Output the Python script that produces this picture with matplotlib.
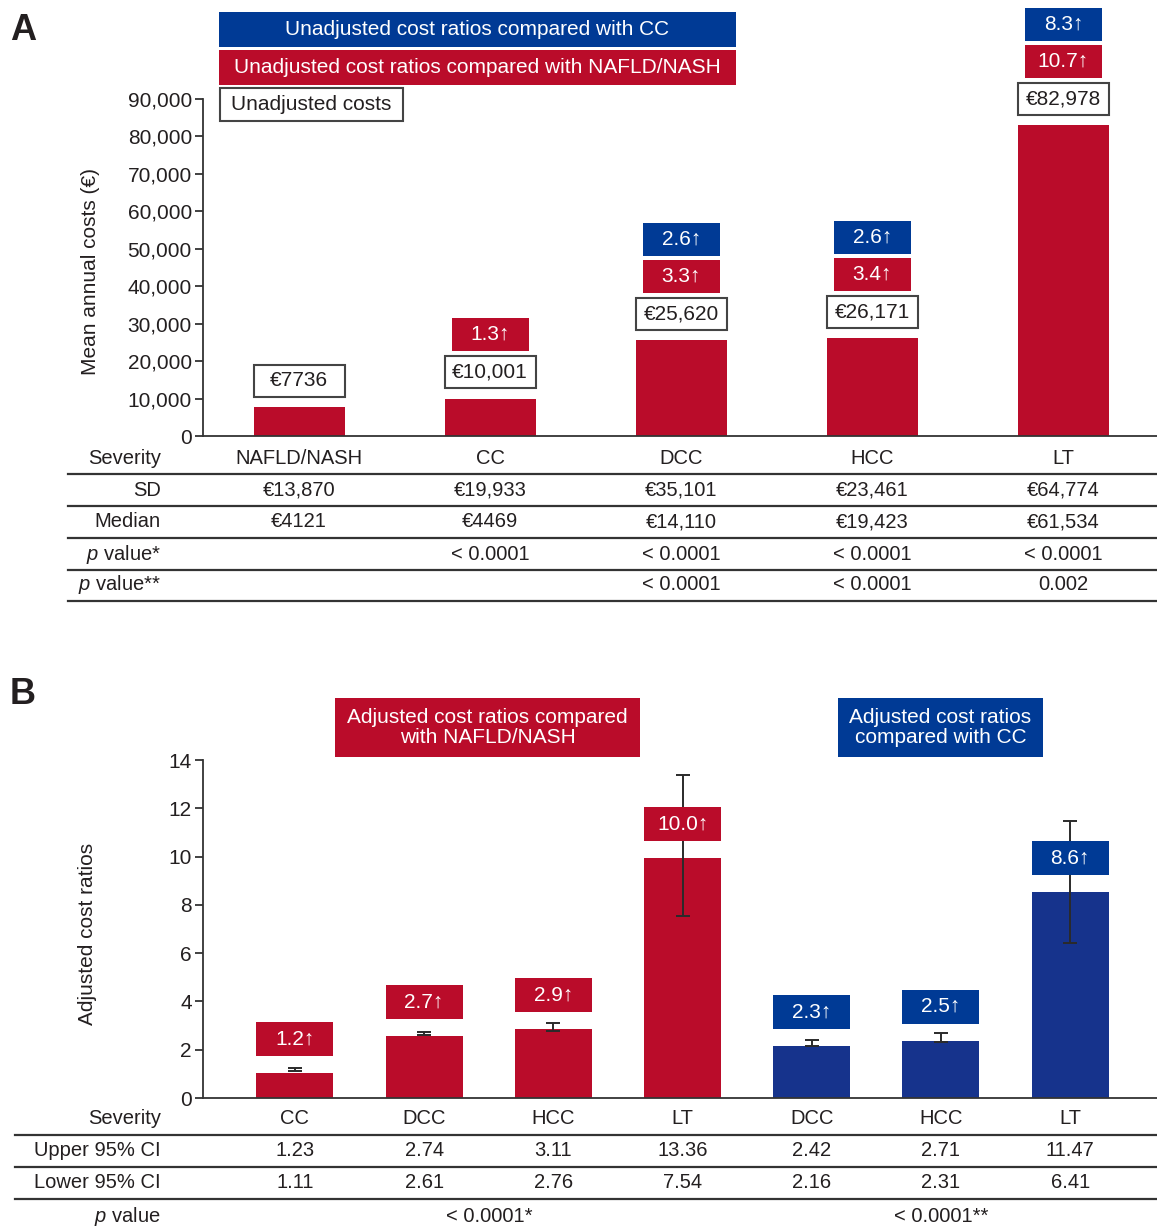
import matplotlib
matplotlib.use('Agg')
import matplotlib.pyplot as plt
from matplotlib.patches import Rectangle
from matplotlib.lines import Line2D

plt.rcParams['font.family'] = ['Liberation Sans', 'DejaVu Sans']
plt.rcParams['mathtext.fontset'] = 'custom'
plt.rcParams['mathtext.rm'] = 'Liberation Sans'
plt.rcParams['mathtext.it'] = 'Liberation Sans:italic'

# ---------------- data: panel A ----------------
severity_a = ['NAFLD/NASH', 'CC', 'DCC', 'HCC', 'LT']
mean_costs = [7736, 10001, 25620, 26171, 82978]
cost_labels = ['€7736', '€10,001', '€25,620', '€26,171', '€82,978']
ratio_vs_nafld_a = ['', '1.3', '3.3', '3.4', '10.7']
ratio_vs_cc_a = ['', '', '2.6', '2.6', '8.3']
sd_row = ['€13,870', '€19,933', '€35,101', '€23,461', '€64,774']
median_row = ['€4121', '€4469', '€14,110', '€19,423', '€61,534']
p1_row = ['', '< 0.0001', '< 0.0001', '< 0.0001', '< 0.0001']
p2_row = ['', '', '< 0.0001', '< 0.0001', '0.002']
yticks_a = [0, 10000, 20000, 30000, 40000, 50000, 60000, 70000, 80000, 90000]

# ---------------- data: panel B ----------------
severity_b = ['CC', 'DCC', 'HCC', 'LT', 'DCC', 'HCC', 'LT']
adj_ratios = [1.03, 2.57, 2.85, 9.95, 2.16, 2.38, 8.54]
ratio_labels_b = ['1.2', '2.7', '2.9', '10.0', '2.3', '2.5', '8.6']
upper_ci = [1.23, 2.74, 3.11, 13.36, 2.42, 2.71, 11.47]
lower_ci = [1.11, 2.61, 2.76, 7.54, 2.16, 2.31, 6.41]
comparator_b = ['NAFLD', 'NAFLD', 'NAFLD', 'NAFLD', 'CC', 'CC', 'CC']
p_values_b = ['< 0.0001*', '< 0.0001**']
yticks_b = [0, 2, 4, 6, 8, 10, 12, 14]

RED = '#BA0C2A'
BLUE = '#003A95'
BLUE_BAR = '#16338C'
TXT = '#231F20'
LINE = '#333333'

W, H, DPI = 1157, 1226, 100
fig = plt.figure(figsize=(W / DPI, H / DPI), dpi=DPI)
fig.patch.set_facecolor('white')


def fx(x):
    return x / W


def fy(y):
    return 1 - y / H


def px(ax, x, y):
    dx, dy = ax.transData.transform((x, y))
    return dx, H - dy


def box(xc, yc, w, h, face, edge, text, color, fs=15, lw=0.0, bold=False):
    r = Rectangle((fx(xc - w / 2), fy(yc + h / 2)), w / W, h / H,
                  transform=fig.transFigure, facecolor=face,
                  edgecolor=edge, linewidth=lw, zorder=5)
    fig.patches.append(r)
    fig.text(fx(xc), fy(yc), text, ha='center', va='center', color=color,
             fontsize=fs, zorder=6, linespacing=1.05,
             fontweight='bold' if bold else 'normal')


def hline(x0, x1, y, lw=1.5):
    fig.add_artist(Line2D([fx(x0), fx(x1)], [fy(y), fy(y)],
                          transform=fig.transFigure, color=LINE, lw=lw))


def style_axes(ax):
    for s in ['top', 'right']:
        ax.spines[s].set_visible(False)
    for s in ['left', 'bottom']:
        ax.spines[s].set_color(LINE)
        ax.spines[s].set_linewidth(1.3)
    ax.tick_params(axis='y', direction='out', length=6, width=1.3,
                   colors=LINE, labelcolor=TXT, labelsize=15, pad=2)
    ax.set_xticks([])


# ================= Panel A =================
axA = fig.add_axes([fx(203), fy(436), (1157 - 203) / W, (436 - 99) / H])
xa = list(range(len(severity_a)))
axA.bar(xa, mean_costs, width=0.476, color=RED, zorder=2)
axA.set_xlim(-0.503, 4.49)
axA.set_ylim(0, 90000)
axA.set_yticks(yticks_a)
axA.set_yticklabels(['{:,}'.format(v) for v in yticks_a])
style_axes(axA)

fig.text(fx(23), fy(31), 'A', fontsize=26, fontweight='bold',
         ha='center', va='center', color=TXT)
fig.text(fx(90), fy(271), 'Mean annual costs (€)', rotation=90,
         fontsize=15, ha='center', va='center', color=TXT)

# legend boxes
box(477.5, 29.5, 517, 35, BLUE, BLUE, 'Unadjusted cost ratios compared with CC', 'white', fs=15)
box(477.5, 67.5, 517, 35, RED, RED, 'Unadjusted cost ratios compared with NAFLD/NASH', 'white', fs=15)
box(311.5, 104.5, 183, 33, 'white', '#444444', 'Unadjusted costs', TXT, fs=15, lw=1.5)

for i in xa:
    cx, top = px(axA, i, mean_costs[i])
    bw = px(axA, i + 0.238, 0)[0] - px(axA, i - 0.238, 0)[0]
    box(cx, top - 26.5, bw, 32, 'white', '#444444', cost_labels[i], TXT, fs=15, lw=1.5)
    if ratio_vs_nafld_a[i]:
        box(cx, top - 64, 77, 33, RED, RED, ratio_vs_nafld_a[i] + '↑', 'white', fs=15)
    if ratio_vs_cc_a[i]:
        box(cx, top - 101, 77, 33, BLUE, BLUE, ratio_vs_cc_a[i] + '↑', 'white', fs=15)

# table A
rows_a = [459, 490, 522, 554, 585]
labels_a = ['Severity', 'SD', 'Median', '$p$ value*', '$p$ value**']
cells_a = [severity_a, sd_row, median_row, p1_row, p2_row]
for ry, lab, cells in zip(rows_a, labels_a, cells_a):
    fig.text(fx(161), fy(ry), lab, ha='right', va='center', fontsize=14.5, color=TXT)
    for i, c in enumerate(cells):
        if c:
            cx = px(axA, i, 0)[0]
            fig.text(fx(cx), fy(ry), c, ha='center', va='center', fontsize=14.5, color=TXT)
for ly in [474, 506, 538, 570, 601]:
    hline(68, 1157, ly, lw=1.6)

# ================= Panel B =================
axB = fig.add_axes([fx(203), fy(1098), (1157 - 203) / W, (1098 - 760) / H])
xb = list(range(len(severity_b)))
colors_b = [RED if c == 'NAFLD' else BLUE_BAR for c in comparator_b]
axB.bar(xb, adj_ratios, width=0.596, color=colors_b, zorder=2)
ci_mid = [(u + l) / 2 for u, l in zip(upper_ci, lower_ci)]
ci_half = [(u - l) / 2 for u, l in zip(upper_ci, lower_ci)]
axB.errorbar(xb, ci_mid, yerr=ci_half, fmt='none', ecolor='#2a2a2a',
             elinewidth=1.4, capsize=4.7, capthick=1.4, zorder=3)
axB.set_xlim(-0.712, 6.672)
axB.set_ylim(0, 14)
axB.set_yticks(yticks_b)
style_axes(axB)

fig.text(fx(23), fy(694), 'B', fontsize=26, fontweight='bold',
         ha='center', va='center', color=TXT)
fig.text(fx(88), fy(934), 'Adjusted cost ratios', rotation=90,
         fontsize=15, ha='center', va='center', color=TXT)

box(487.5, 727.5, 305, 59, RED, RED, 'Adjusted cost ratios compared\nwith NAFLD/NASH', 'white', fs=15)
box(940.5, 727.5, 205, 59, BLUE, BLUE, 'Adjusted cost ratios\ncompared with CC', 'white', fs=15)

for i in xb:
    cx, top = px(axB, i, adj_ratios[i])
    bw = px(axB, i + 0.298, 0)[0] - px(axB, i - 0.298, 0)[0]
    fc = RED if comparator_b[i] == 'NAFLD' else BLUE
    box(cx, top - 34, bw, 34, fc, fc, ratio_labels_b[i] + '↑', 'white', fs=15)

rows_b = [1119, 1151, 1183]
labels_b = ['Severity', 'Upper 95% CI', 'Lower 95% CI']
cells_b = [severity_b, ['{:.2f}'.format(v) for v in upper_ci],
           ['{:.2f}'.format(v) for v in lower_ci]]
for ry, lab, cells in zip(rows_b, labels_b, cells_b):
    fig.text(fx(161), fy(ry), lab, ha='right', va='center', fontsize=14.5, color=TXT)
    for i, c in enumerate(cells):
        cx = px(axB, i, 0)[0]
        fig.text(fx(cx), fy(ry), c, ha='center', va='center', fontsize=14.5, color=TXT)
fig.text(fx(161), fy(1216), '$p$ value', ha='right', va='center', fontsize=14.5, color=TXT)
groups = [[i for i in xb if comparator_b[i] == 'NAFLD'], [i for i in xb if comparator_b[i] == 'CC']]
for g, pv in zip(groups, p_values_b):
    cx = sum(px(axB, i, 0)[0] for i in g) / len(g)
    fig.text(fx(cx), fy(1216), pv, ha='center', va='center', fontsize=14.5, color=TXT)
for ly in [1135, 1167, 1199]:
    hline(15, 1157, ly, lw=1.6)

fig.savefig('out.png', dpi=DPI, facecolor='white')
